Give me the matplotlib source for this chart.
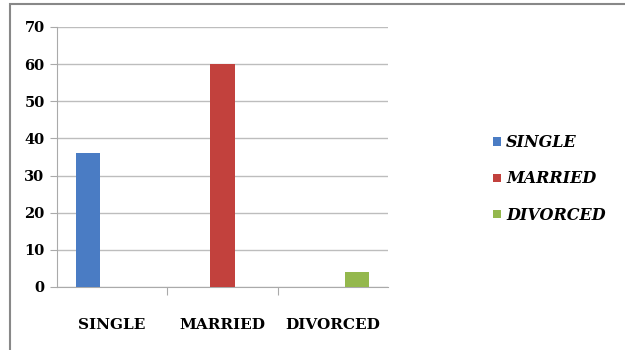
import numpy as np
import matplotlib.pyplot as plt
from matplotlib.patches import Rectangle

categories = ['SINGLE', 'MARRIED', 'DIVORCED']
series = ['SINGLE', 'MARRIED', 'DIVORCED']
values = [[36, 0, 0],
          [0, 60, 0],
          [0, 0, 4]]
colors = ['#4a7cc4', '#c2413d', '#94b84d']

fig = plt.figure(figsize=(6.25, 3.5), dpi=100)
ax = fig.add_axes([57/625, 1-287/350, (388-57)/625, (287-27)/350])

x = np.arange(len(categories))
w = 0.22
for i, name in enumerate(series):
    ax.bar(x + (i-1)*w, values[i], width=w, color=colors[i], label=name, zorder=3)

ax.set_xlim(-0.5, 2.5)
ax.set_ylim(0, 70)
ax.set_yticks(range(0, 71, 10))
ax.yaxis.grid(True, color='#bdbdbd', linewidth=1, zorder=0)
ax.set_xticks([0.5, 1.5], minor=False)
ax.set_xticks(x, minor=True)
ax.set_xticklabels([])
ax.set_xticklabels(categories, minor=True)
ax.tick_params(axis='x', which='major', length=6, color='#aaaaaa')
ax.tick_params(axis='x', which='minor', length=0, pad=22)
ax.tick_params(axis='y', length=5, color='#aaaaaa', pad=4)
for lab in ax.get_xticklabels(minor=True) + ax.get_yticklabels():
    lab.set_fontfamily('DejaVu Serif')
    lab.set_fontweight('bold')
for lab in ax.get_xticklabels(minor=True):
    lab.set_fontsize(11)
for lab in ax.get_yticklabels():
    lab.set_fontsize(10.5)
for s in ['top', 'right']:
    ax.spines[s].set_visible(False)
ax.spines['left'].set_color('#aaaaaa')
ax.spines['bottom'].set_color('#aaaaaa')

leg = fig.legend(loc='center left', bbox_to_anchor=(479/625, 1-179/350), frameon=False,
                 handlelength=0.45, handleheight=0.45, handletextpad=0.35, labelspacing=1.2,
                 prop={'family': 'DejaVu Serif', 'weight': 'bold', 'style': 'italic', 'size': 11.5})

fig.patches.append(Rectangle((10/625, -0.1), 1, 1.1-4/350, transform=fig.transFigure,
                             fill=False, edgecolor='#888888', linewidth=1.5))

fig.savefig('out.png', dpi=100)
